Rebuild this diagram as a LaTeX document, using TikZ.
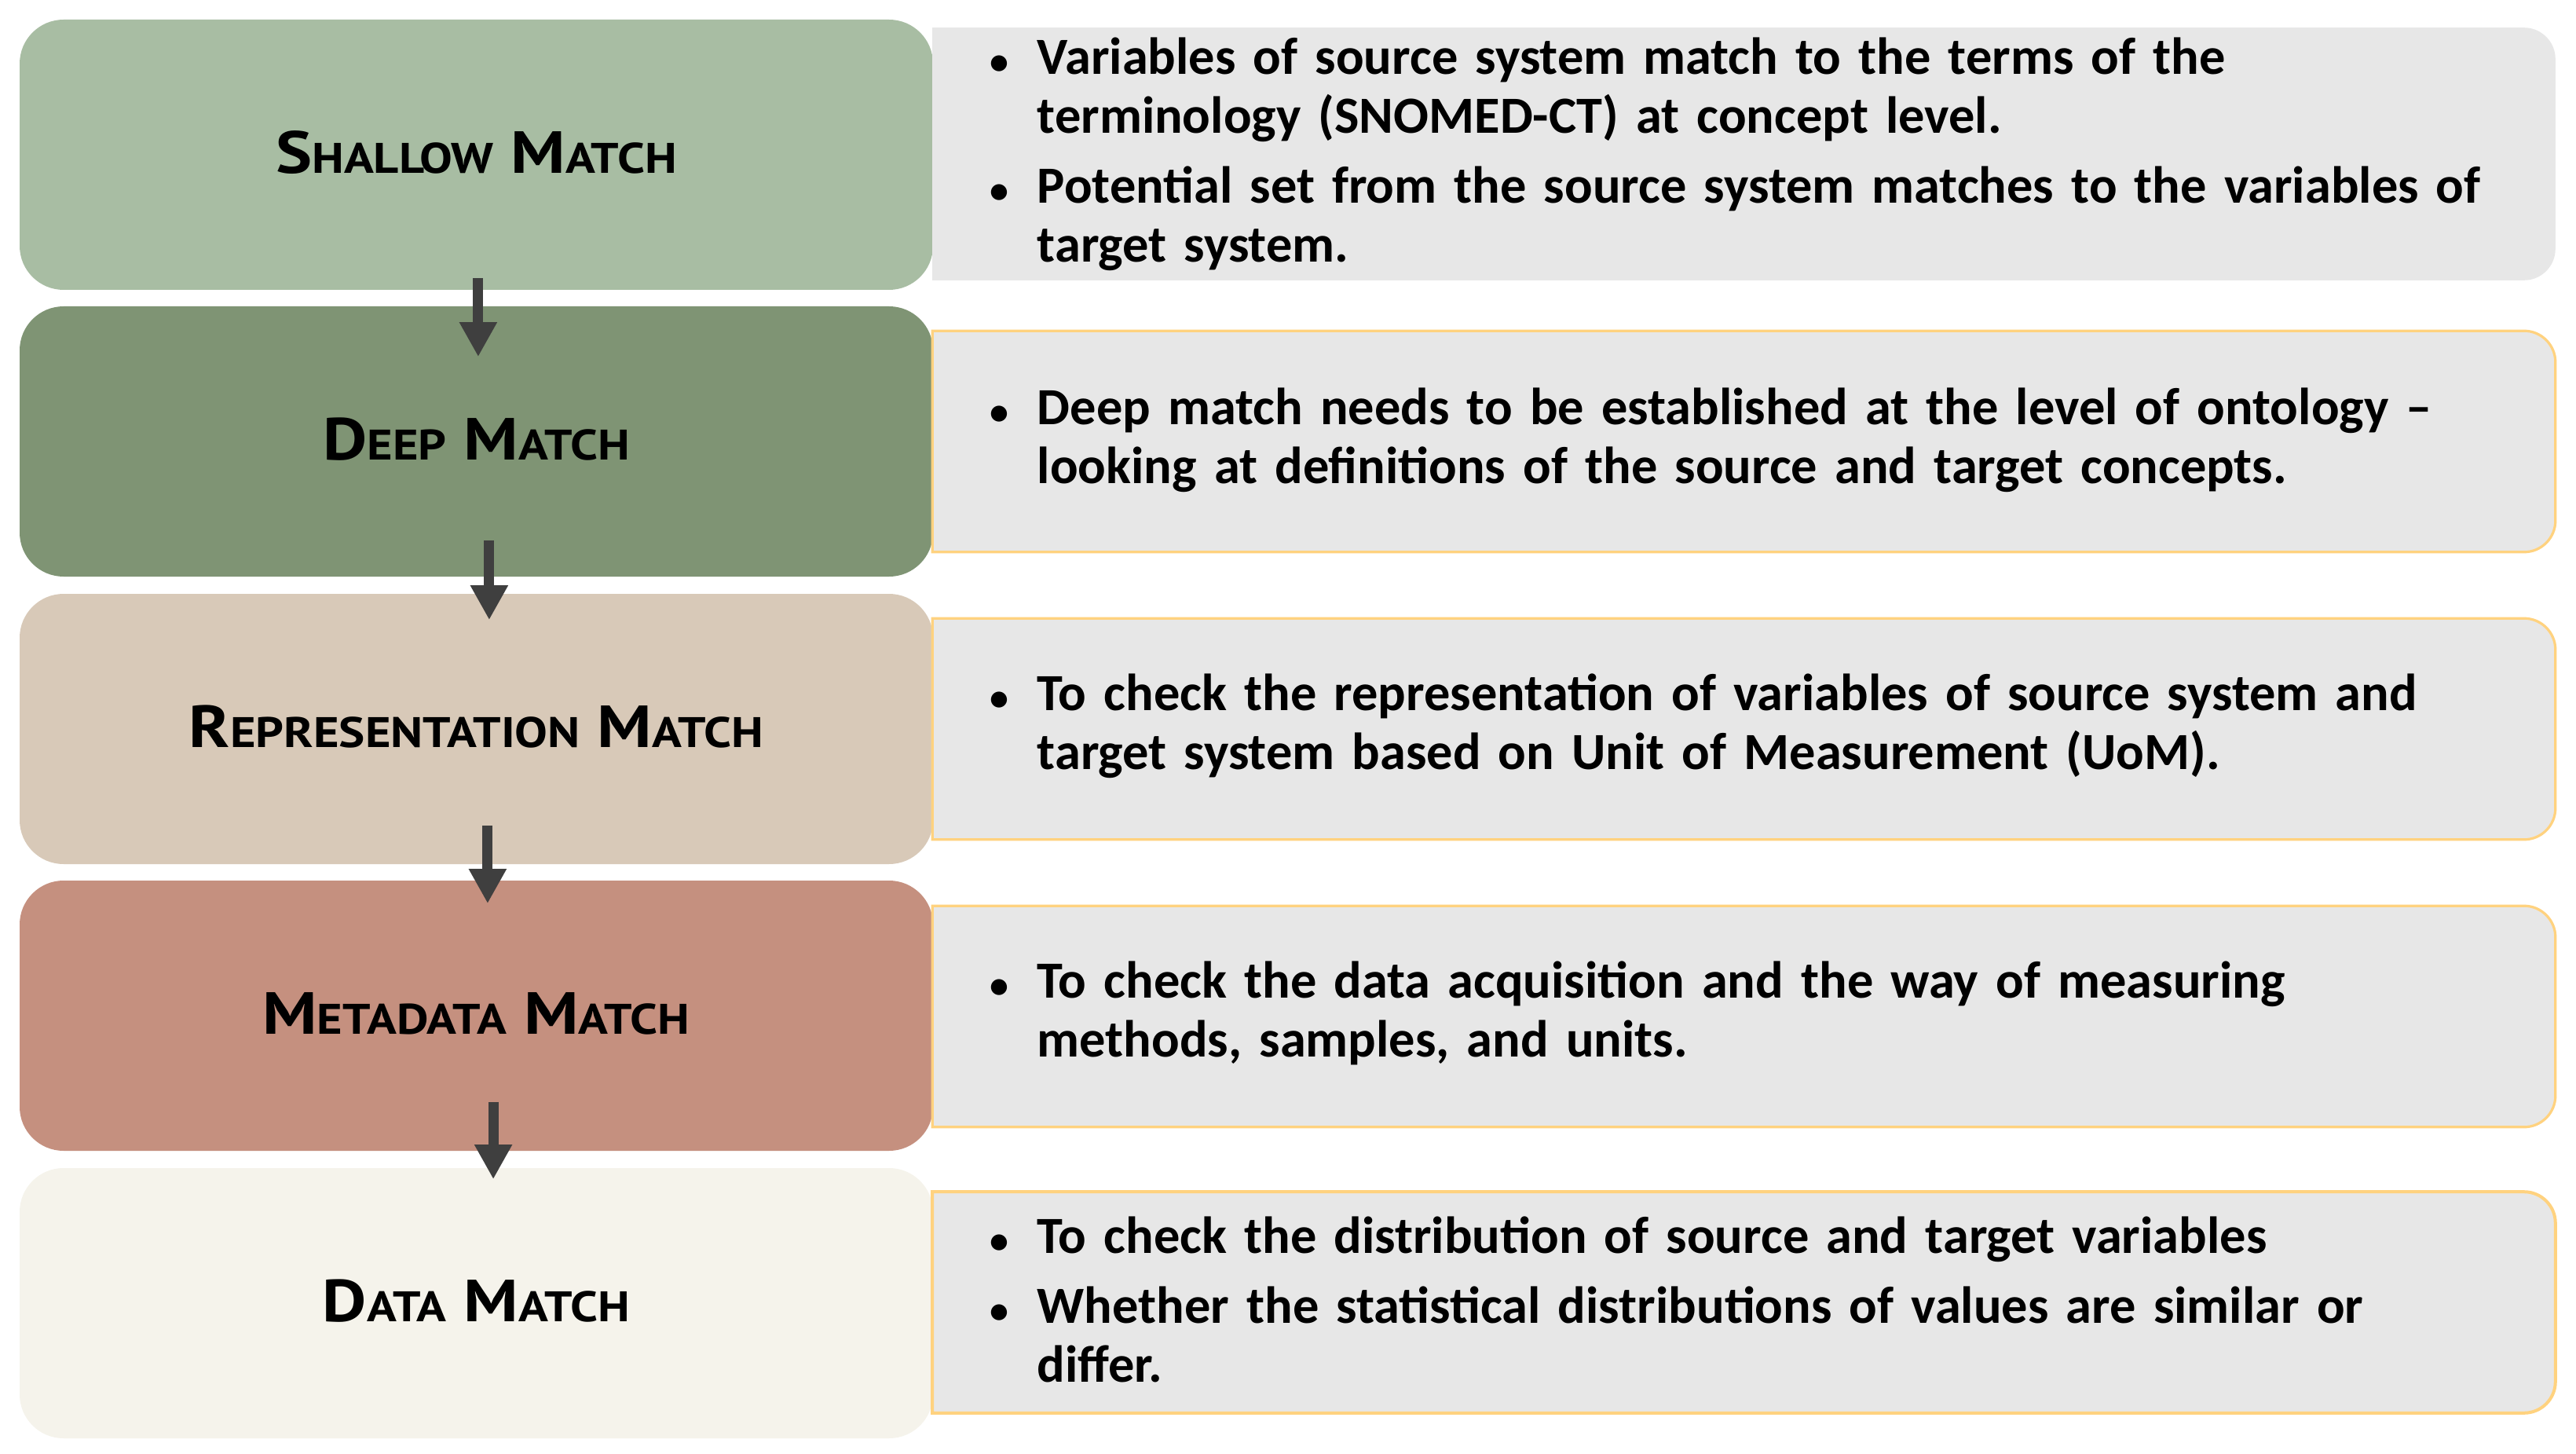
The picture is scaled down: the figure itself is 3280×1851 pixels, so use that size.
\documentclass[tikz,border=0pt]{standalone}
\usepackage{fontspec}
\setmainfont{Carlito}
\newfontfamily\labfont[FakeStretch=1.15]{PT Sans}
\usetikzlibrary{arrows.meta}
\definecolor{cshallow}{HTML}{A8BDA3}
\definecolor{cdeep}{HTML}{7F9474}
\definecolor{crepr}{HTML}{D8C9B8}
\definecolor{cmeta}{HTML}{C5907F}
\definecolor{cdata}{HTML}{F5F3EB}
\definecolor{rfill}{HTML}{E7E7E7}
\definecolor{rborder}{HTML}{FFD27F}
\definecolor{arrowgray}{HTML}{3F3F3F}
\newcommand\capsw[2]{{\fontsize{18.9pt}{19pt}\selectfont#1}{\fontsize{13.6pt}{14pt}\selectfont#2}}
\newcommand\lab[1]{\raisebox{1.5pt}{#1}}
\newcommand\itm[1]{\par\hangindent=15pt\hangafter=1\noindent\makebox[15pt][l]{\fontsize{12pt}{12pt}\selectfont •}#1\par}
\tikzset{
  lbox/.style={rounded corners=14pt, minimum width=290.75pt, minimum height=86pt, inner sep=0pt,
    text=black, font=\labfont\bfseries\fontsize{18.9pt}{19pt}\selectfont},
  rbox/.style={minimum width=516.25pt, minimum height=70pt, inner sep=0pt},
  rtext/.style={anchor=west, text width=490pt, inner sep=0pt, text=black,
    font=\bfseries\fontsize{16.6pt}{18.8pt}\selectfont},
  arr/.style={draw=arrowgray, line width=3.25pt, -{Triangle[length=11pt,width=11.25pt]}}
}
\newcommand\rshape[2]{%
  \path[#2] (#1.south west) -- (#1.north west) -- ([xshift=-10pt]#1.north east) arc(90:0:10pt)
    -- ([yshift=10pt]#1.south east) arc(0:-90:10pt) -- cycle;}
\begin{document}
\begin{tikzpicture}[x=0.25pt,y=-0.25pt]
\useasboundingbox[fill=white] (0,0) rectangle (3280,1851);
% left boxes
\node[lbox, fill=cshallow] (s1) at (606.5,197) {\lab{\capsw{S}{HALLOW} \capsw{M}{ATCH}}};
\node[lbox, fill=cdeep] (s2) at (606.5,562) {\lab{\capsw{D}{EEP} \capsw{M}{ATCH}}};
\node[lbox, fill=crepr] (s3) at (606.5,928) {\lab{\capsw{R}{EPRESENTATION} \capsw{M}{ATCH}}};
\node[lbox, fill=cmeta] (s4) at (606.5,1293) {\lab{\capsw{M}{ETADATA} \capsw{M}{ATCH}}};
\node[lbox, fill=cdata] (s5) at (606.5,1659) {\lab{\capsw{D}{ATA} \capsw{M}{ATCH}}};
% right boxes
\node[rbox, minimum height=80pt] (r1) at (2220.5,196) {};
\node[rbox] (r2) at (2220.5,562) {};
\node[rbox] (r3) at (2220.5,928) {};
\node[rbox] (r4) at (2220.5,1294) {};
\node[rbox] (r5) at (2220.5,1658) {};
\rshape{r1}{fill=rfill}
\rshape{r2}{fill=rfill, draw=rborder, line width=0.8pt}
\rshape{r3}{fill=rfill, draw=rborder, line width=0.8pt}
\rshape{r4}{fill=rfill, draw=rborder, line width=0.8pt}
\rshape{r5}{fill=rfill, draw=rborder, line width=1pt}
% texts
\node[rtext] (t1) at (1260,182) {\raggedright
  \itm{Variables of source system match to the terms of the\newline terminology (SNOMED-CT) at concept level.}\vspace{3.25pt}
  \itm{Potential set from the source system matches to the variables of\newline target system.}};
\node[rtext] (t2) at (1260,546) {\raggedright
  \itm{Deep match needs to be established at the level of ontology –\newline looking at definitions of the source and target concepts.}};
\node[rtext] (t3) at (1260,910) {\raggedright
  \itm{To check the representation of variables of source system and\newline target system based on Unit of Measurement (UoM).}};
\node[rtext] (t4) at (1260,1276) {\raggedright
  \itm{To check the data acquisition and the way of measuring\newline methods, samples, and units.}};
\node[rtext] (t5) at (1260,1640) {\raggedright
  \itm{To check the distribution of source and target variables}\vspace{3.5pt}
  \itm{Whether the statistical distributions of values are similar or\newline differ.}};
% arrows
\draw[arr] ([xshift=0.6pt,yshift=4pt]s1.south) -- ([xshift=0.6pt,yshift=-16.25pt]s2.north);
\draw[arr] ([xshift=4.1pt,yshift=11.75pt]s2.south) -- ([xshift=4.1pt,yshift=-8.5pt]s3.north);
\draw[arr] ([xshift=3.6pt,yshift=12.5pt]s3.south) -- ([xshift=3.6pt,yshift=-7.5pt]s4.north);
\draw[arr] ([xshift=5.4pt,yshift=15.75pt]s4.south) -- ([xshift=5.4pt,yshift=-3.75pt]s5.north);
\end{tikzpicture}
\end{document}
